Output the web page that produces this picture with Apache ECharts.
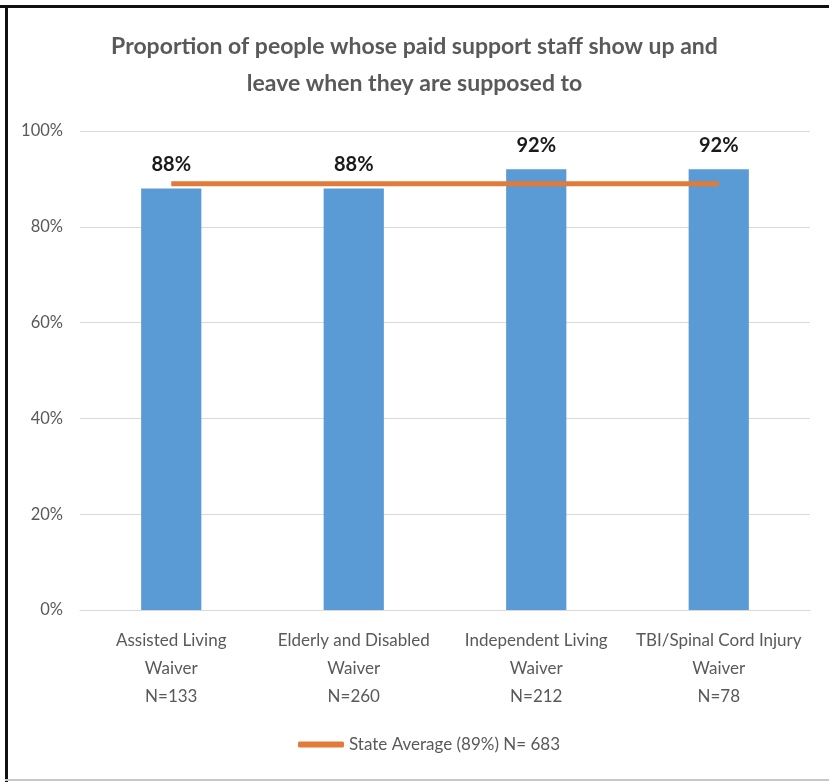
<!DOCTYPE html>
<html>
<head>
<meta charset="utf-8">
<script src="https://cdn.jsdelivr.net/npm/echarts@6/dist/echarts.min.js"></script>
<style>
  html, body { margin: 0; padding: 0; background: #fff; }
  #chart { width: 829px; height: 782px; }
</style>
</head>
<body>
<div id="chart"></div>
<script>
// Waiver programs and their sample sizes
const categories = [
  'Assisted Living\nWaiver\nN=133',
  'Elderly and Disabled\nWaiver\nN=260',
  'Independent Living\nWaiver\nN=212',
  'TBI/Spinal Cord Injury\nWaiver\nN=78'
];
// Percent of people whose paid staff show up and leave on time
const waiverValues = [88, 88, 92, 92];
// Statewide average, drawn across all programs
const stateAverage = [89, 89, 89, 89];
const stateAverageName = 'State Average (89%) N= 683';
const yTicks = { min: 0, max: 100, interval: 20 };

const FONT = 'Lato, "Noto Sans", sans-serif';
const GREY = '#595959';

const chart = echarts.init(document.getElementById('chart'));
chart.setOption({
  backgroundColor: '#ffffff',
  animation: false,
  title: {
    text: 'Proportion of people whose paid support staff show up and\nleave when they are supposed to',
    left: 'center',
    top: 23,
    textStyle: {
      fontFamily: FONT,
      fontSize: 23,
      fontWeight: 'bold',
      color: GREY,
      lineHeight: 37
    }
  },
  legend: {
    data: [stateAverageName],
    bottom: 24,
    left: 293,
    icon: 'roundRect',
    itemWidth: 46,
    itemHeight: 6,
    itemGap: 4,
    textStyle: { fontFamily: FONT, fontSize: 17, color: GREY }
  },
  grid: { left: 80, right: 19, top: 131, bottom: 172 },
  xAxis: {
    type: 'category',
    data: categories,
    axisTick: { show: false },
    axisLine: { lineStyle: { color: '#d9d9d9', width: 1 } },
    axisLabel: {
      fontFamily: FONT,
      fontSize: 17,
      color: GREY,
      lineHeight: 28,
      margin: 17,
      interval: 0
    }
  },
  yAxis: {
    type: 'value',
    min: yTicks.min,
    max: yTicks.max,
    interval: yTicks.interval,
    axisLine: { show: false },
    axisTick: { show: false },
    splitLine: { lineStyle: { color: '#d9d9d9', width: 1 } },
    axisLabel: {
      fontFamily: FONT,
      fontSize: 16.5,
      color: GREY,
      margin: 17,
      formatter: '{value}%'
    }
  },
  series: [
    {
      name: 'Waiver',
      type: 'bar',
      data: waiverValues,
      barWidth: '33%',
      itemStyle: { color: '#5B9BD5' },
      label: {
        show: true,
        position: 'top',
        distance: 14,
        formatter: '{c}%',
        fontFamily: FONT,
        fontSize: 20,
        fontWeight: 'bold',
        color: '#1a1a1a'
      },
      z: 2
    },
    {
      name: stateAverageName,
      type: 'line',
      data: stateAverage,
      symbol: 'none',
      lineStyle: { color: '#E07B39', width: 5 },
      itemStyle: { color: '#E07B39' },
      z: 3
    }
  ],
  graphic: [
    // outer frame: heavy top and left rules, faint bottom rule
    { type: 'rect', shape: { x: 0, y: 5, width: 829, height: 3 }, style: { fill: '#111' }, silent: true },
    { type: 'rect', shape: { x: 5, y: 5, width: 3, height: 777 }, style: { fill: '#111' }, silent: true },
    { type: 'rect', shape: { x: 5, y: 779, width: 824, height: 2 }, style: { fill: '#c8c8c8' }, silent: true }
  ]
});
</script>
</body>
</html>
